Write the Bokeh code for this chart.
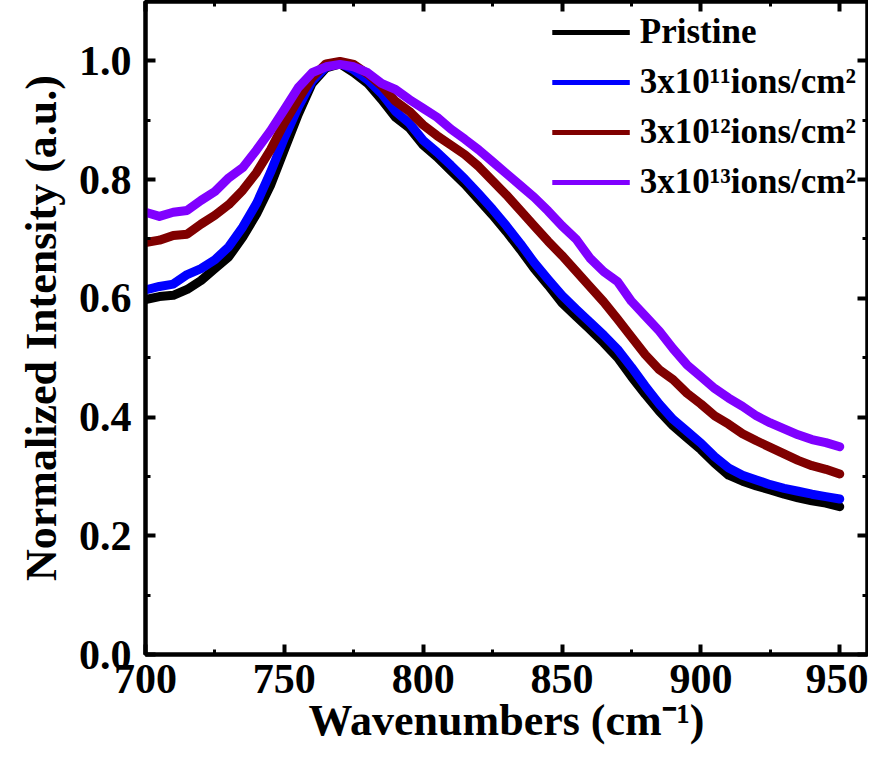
from bokeh.plotting import figure
from bokeh.models import (LinearAxis, Legend, LegendItem, SingleIntervalTicker,
                          PrintfTickFormatter, CustomJSTickFormatter)
from bokeh.embed import file_html
from bokeh.resources import INLINE

# ---------------- data ----------------
wavenumber = [700, 705, 710, 715, 720, 725, 730, 735, 740, 745,
              750, 755, 760, 765, 770, 775, 780, 785, 790, 795,
              800, 805, 810, 815, 820, 825, 830, 835, 840, 845,
              850, 855, 860, 865, 870, 875, 880, 885, 890, 895,
              900, 905, 910, 915, 920, 925, 930, 935, 940, 945, 950]

pristine = [0.598, 0.603, 0.605, 0.615, 0.630, 0.650, 0.670, 0.703, 0.742, 0.790,
            0.850, 0.910, 0.962, 0.988, 0.995, 0.980, 0.962, 0.935, 0.905, 0.887,
            0.858, 0.838, 0.815, 0.792, 0.766, 0.740, 0.712, 0.682, 0.650, 0.622,
            0.592, 0.570, 0.548, 0.525, 0.500, 0.468, 0.438, 0.410, 0.385, 0.365,
            0.345, 0.322, 0.302, 0.292, 0.284, 0.277, 0.270, 0.264, 0.259, 0.255, 0.249]

dose_3e11 = [0.614, 0.620, 0.624, 0.640, 0.650, 0.665, 0.687, 0.720, 0.760, 0.812,
             0.870, 0.922, 0.966, 0.990, 0.996, 0.985, 0.968, 0.945, 0.915, 0.895,
             0.866, 0.846, 0.824, 0.801, 0.776, 0.750, 0.722, 0.692, 0.660, 0.632,
             0.605, 0.582, 0.560, 0.538, 0.514, 0.484, 0.452, 0.422, 0.396, 0.376,
             0.356, 0.333, 0.314, 0.302, 0.294, 0.286, 0.280, 0.275, 0.270, 0.266, 0.262]

dose_3e12 = [0.694, 0.698, 0.706, 0.708, 0.725, 0.740, 0.758, 0.782, 0.812, 0.850,
             0.895, 0.935, 0.972, 0.995, 0.999, 0.994, 0.978, 0.958, 0.932, 0.915,
             0.892, 0.874, 0.858, 0.842, 0.822, 0.798, 0.774, 0.748, 0.722, 0.696,
             0.672, 0.646, 0.620, 0.594, 0.565, 0.535, 0.505, 0.480, 0.463, 0.440,
             0.422, 0.402, 0.388, 0.372, 0.360, 0.349, 0.338, 0.327, 0.318, 0.312, 0.304]

dose_3e13 = [0.745, 0.738, 0.745, 0.748, 0.765, 0.780, 0.803, 0.820, 0.850, 0.882,
             0.918, 0.955, 0.980, 0.990, 0.994, 0.990, 0.980, 0.962, 0.952, 0.935,
             0.920, 0.905, 0.885, 0.868, 0.850, 0.830, 0.810, 0.790, 0.770, 0.747,
             0.722, 0.700, 0.668, 0.645, 0.628, 0.595, 0.570, 0.545, 0.515, 0.488,
             0.468, 0.448, 0.432, 0.418, 0.402, 0.390, 0.380, 0.370, 0.362, 0.357, 0.350]

series_labels = ["Pristine", "3x10\u00b9\u00b9ions/cm\u00b2",
                 "3x10\u00b9\u00b2ions/cm\u00b2", "3x10\u00b9\u00b3ions/cm\u00b2"]
series_colors = ["#000000", "#0000FF", "#800000", "#8000FF"]
series_values = [pristine, dose_3e11, dose_3e12, dose_3e13]

x_title = "Wavenumbers (cm\u207b\u00b9)"
y_title = "Normalized Intensity (a.u.)"

FONT = "Liberation Serif"

# ---------------- figure ----------------
p = figure(frame_width=722, frame_height=653, x_range=(700, 960), y_range=(0, 1.1),
           output_backend="svg", toolbar_location=None,
           min_border_left=145, min_border_right=1,
           min_border_top=1, min_border_bottom=96)
p.background_fill_color = "white"
p.border_fill_color = "white"
p.grid.visible = False
p.outline_line_color = "black"
p.outline_line_width = 4

# thin copies (hidden under the thick curves) serve as legend samples
items = []
for vals, col, lab in zip(series_values, series_colors, series_labels):
    r = p.line(wavenumber, vals, line_color=col, line_width=5)
    items.append(LegendItem(label=lab, renderers=[r]))

for vals, col in zip(series_values, series_colors):
    p.line(wavenumber, vals, line_color=col, line_width=9,
           line_join="round", line_cap="round")

legend = Legend(items=items, location="top_right")
legend.label_text_font = FONT
legend.label_text_font_style = "bold"
legend.label_text_font_size = "35px"
legend.label_text_color = "black"
legend.glyph_width = 78
legend.glyph_height = 40
legend.label_height = 40
legend.spacing = 10
legend.label_standoff = 10
legend.padding = 3
legend.margin = 8
legend.border_line_alpha = 0
legend.background_fill_alpha = 0
p.add_layout(legend)


def style_axis(ax, show_labels=True):
    ax.axis_line_width = 4
    ax.axis_line_color = "black"
    ax.major_tick_line_width = 4
    ax.minor_tick_line_width = 3
    ax.major_tick_in = 10
    ax.major_tick_out = 0
    ax.minor_tick_in = 5
    ax.minor_tick_out = 0
    ax.major_label_text_font = FONT
    ax.major_label_text_font_style = "bold"
    ax.major_label_text_color = "black"
    ax.axis_label_text_font = FONT
    ax.axis_label_text_font_style = "bold"
    ax.axis_label_text_color = "black"
    if show_labels:
        ax.major_label_text_font_size = "42px"
        ax.axis_label_text_font_size = "44px"
    else:
        ax.formatter = CustomJSTickFormatter(code="return ''")
        ax.major_label_text_font_size = "1px"
        ax.major_label_standoff = 0


p.xaxis.ticker = SingleIntervalTicker(interval=50, num_minor_ticks=2)
p.yaxis.ticker = SingleIntervalTicker(interval=0.2, num_minor_ticks=2)
p.yaxis.formatter = PrintfTickFormatter(format="%.1f")
p.xaxis.axis_label = x_title
p.yaxis.axis_label = y_title
for ax in p.xaxis + p.yaxis:
    style_axis(ax)
p.xaxis.major_label_standoff = 10
p.yaxis.major_label_standoff = 14
p.xaxis.axis_label_standoff = 0
p.yaxis.axis_label_standoff = 10

top = LinearAxis(ticker=SingleIntervalTicker(interval=50, num_minor_ticks=2))
style_axis(top, show_labels=False)
p.add_layout(top, "above")
right = LinearAxis(ticker=SingleIntervalTicker(interval=0.2, num_minor_ticks=2))
style_axis(right, show_labels=False)
p.add_layout(right, "right")

open("out.html", "w").write(file_html(p, INLINE))
